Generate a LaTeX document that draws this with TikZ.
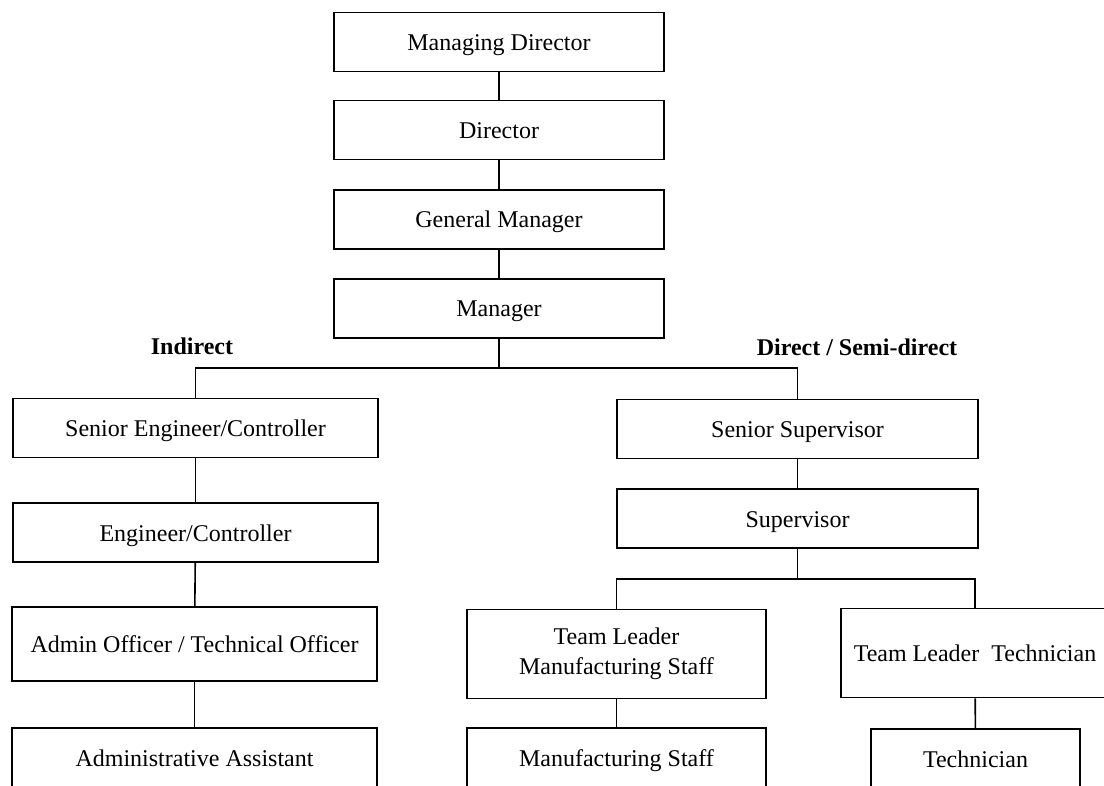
\documentclass[tikz,border=0pt]{standalone}
\usepackage{fontspec}
\setmainfont{Liberation Serif}
\usepackage{tikz}
\usetikzlibrary{positioning}
\tikzset{
post/.style={draw,line width=0.8pt,minimum width=#1,minimum height=29.5pt,
  inner sep=0pt,align=center,text height=10pt,text depth=1.5pt,
  font=\fontsize{12}{15}\selectfont},
post/.default=165pt,
group/.style={font=\fontsize{12}{14}\selectfont\bfseries},
link/.style={line width=0.8pt}
}

\begin{document}
\begin{tikzpicture}[x=0.5pt,y=-0.5pt]
\useasboundingbox (0,0) rectangle (1104,786);
\clip (0,0) rectangle (1104,786);
% top of the chart
\node[post] (md)  at (499,42)    {Managing Director};
\node[post] (dir) at (499,130)   {Director};
\node[post] (gm)  at (499,219.5) {General Manager};
\node[post] (mgr) at (499,308.5) {Manager};
\node[group] (ind) at (192,346) {Indirect};
\node[group] (dsd) at (857,347) {Direct / Semi-direct};
% indirect side
\node[post=182.5pt] (sec) at (195.5,428) {Senior Engineer/Controller};
\node[post=182.5pt] (ec)  at (195.5,532.5) {Engineer/Controller};
\node[post=182.5pt,minimum height=37pt] (ao) at (194.5,644) {Admin Officer / Technical Officer};
\node[post=182.5pt] (aa) at (194.5,757.5) {Administrative Assistant};
% direct side
\node[post=180.5pt] (ss)  at (797.5,429)   {Senior Supervisor};
\node[post=180.5pt] (sup) at (797.5,518.5) {Supervisor};
\node[post=149.5pt,minimum height=44.5pt,text height=,text depth=] (tlms) at (616.5,654) {Team Leader\\Manufacturing Staff};
\node[post=134pt,minimum height=44.5pt] (tlt) at (975,653) {Team Leader\ \ Technician};
\node[post=149.5pt] (ms) at (616.5,757.5) {Manufacturing Staff};
\node[post=104.5pt] (tech) at (975.5,758.5) {Technician};
% lines
\coordinate (bus1) at (499,368);
\coordinate (bus2) at (797.5,579);
\draw[link] (md)--(dir);
\draw[link] (dir)--(gm);
\draw[link] (gm)--(mgr);
\draw[link] (mgr)--(bus1);
\draw[link] (sec.north) |- (bus1) -| (ss.north);
\draw[link] (sec)--(ec);
\draw[link] (ec)--(ao);
\draw[link] (ao)--(aa);
\draw[link] (ss)--(sup);
\draw[link] (sup)--(bus2);
\draw[link] (tlms.north) |- (bus2) -| (tlt.north);
\draw[link] (tlms)--(ms);
\draw[link] (tlt)--(tech);
\end{tikzpicture}
\end{document}
